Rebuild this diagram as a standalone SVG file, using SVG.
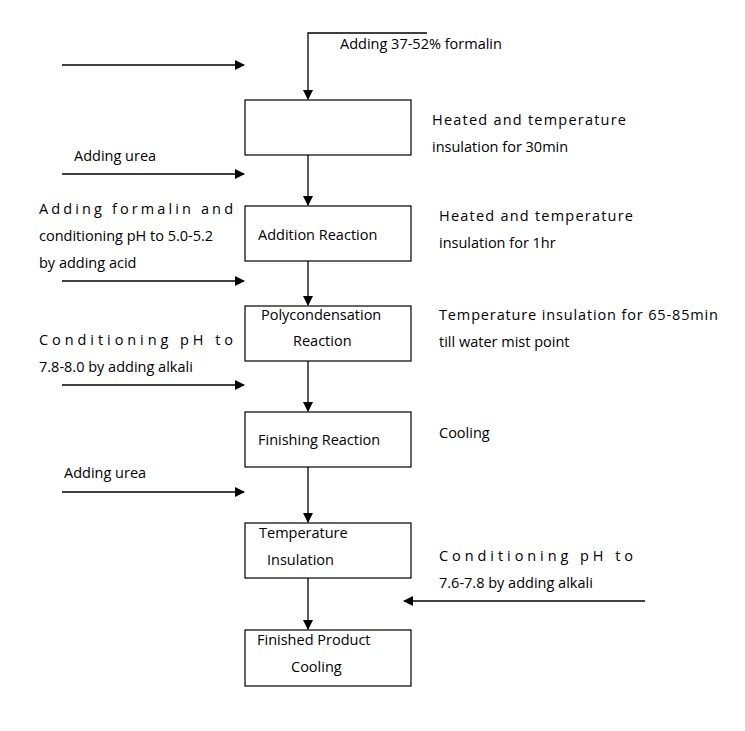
<svg xmlns="http://www.w3.org/2000/svg" width="745" height="731" viewBox="0 0 745 731">
<defs><marker id="ah" markerWidth="10" markerHeight="10" refX="9" refY="5" orient="auto" markerUnits="userSpaceOnUse"><path d="M0,0 L10,5 L0,10 z" fill="#000"/></marker></defs>
<style>
.b{fill:#fff;stroke:#000;stroke-width:1.2}
.c{stroke:#000;stroke-width:1.3;fill:none;marker-end:url(#ah)}
text{font-family:"Open Sans","Noto Sans",sans-serif;font-size:14.5px;fill:#000}
</style>
<rect width="745" height="731" fill="#fff"/>
<g id="connectors">
<path class="c" d="M427,33 H308 V99"/>
<path class="c" d="M308,155 V205"/>
<path class="c" d="M308,261 V305"/>
<path class="c" d="M308,361 V411"/>
<path class="c" d="M308,467 V522"/>
<path class="c" d="M308,578 V629"/>
<path class="c" d="M62,65 H244"/>
<path class="c" d="M62,174 H244"/>
<path class="c" d="M62,281 H244"/>
<path class="c" d="M62,385 H244"/>
<path class="c" d="M62,492 H244"/>
<path class="c" d="M645,601 H404"/>
</g>
<g id="n1"><rect class="b" x="245" y="100" width="166" height="55"/></g>
<g id="n2"><rect class="b" x="245" y="206" width="166" height="55"/><text x="258" y="240">Addition Reaction</text></g>
<g id="n3"><rect class="b" x="245" y="306" width="166" height="55"/><text x="261" y="320">Polycondensation</text><text x="293" y="346">Reaction</text></g>
<g id="n4"><rect class="b" x="245" y="412" width="166" height="55"/><text x="258" y="445">Finishing Reaction</text></g>
<g id="n5"><rect class="b" x="245" y="523" width="166" height="55"/><text x="259" y="538">Temperature</text><text x="267" y="565">Insulation</text></g>
<g id="n6"><rect class="b" x="245" y="630" width="166" height="56"/><text x="257" y="645">Finished Product</text><text x="291" y="672">Cooling</text></g>
<g id="labels">
<text x="340" y="49">Adding 37-52% formalin</text>
<text x="432" y="125" textLength="194" lengthAdjust="spacing">Heated and temperature</text>
<text x="432" y="152">insulation for 30min</text>
<text x="74" y="161">Adding urea</text>
<text x="39" y="214" textLength="194" lengthAdjust="spacing">Adding formalin and</text>
<text x="39" y="241">conditioning pH to 5.0-5.2</text>
<text x="39" y="268">by adding acid</text>
<text x="439" y="221" textLength="194" lengthAdjust="spacing">Heated and temperature</text>
<text x="439" y="248">insulation for 1hr</text>
<text x="439" y="320" textLength="279" lengthAdjust="spacing">Temperature insulation for 65-85min</text>
<text x="439" y="347">till water mist point</text>
<text x="39" y="345" textLength="194" lengthAdjust="spacing">Conditioning pH to</text>
<text x="39" y="372">7.8-8.0 by adding alkali</text>
<text x="439" y="438">Cooling</text>
<text x="64" y="478">Adding urea</text>
<text x="439" y="561" textLength="194" lengthAdjust="spacing">Conditioning pH to</text>
<text x="439" y="588">7.6-7.8 by adding alkali</text>
</g>
</svg>
